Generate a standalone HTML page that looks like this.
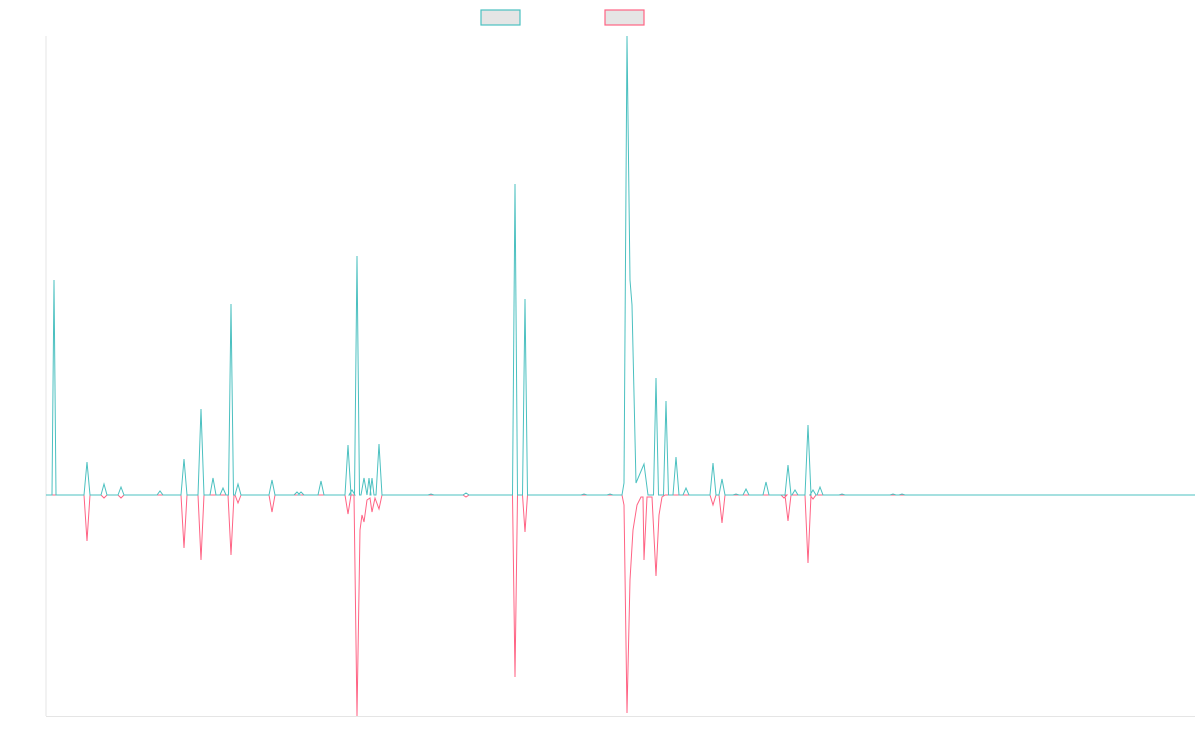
<!DOCTYPE html>
<html><head><meta charset="utf-8"><style>
html,body{margin:0;padding:0;background:#fff;width:1200px;height:750px;overflow:hidden}
</style></head><body>
<svg id="s" width="1200" height="750" xmlns="http://www.w3.org/2000/svg">
<rect x="481" y="10" width="39" height="15" fill="#e5e5e5" stroke="#4bc0c0" stroke-width="1.2"/>
<rect x="605" y="10" width="39" height="15" fill="#e5e5e5" stroke="#ff6384" stroke-width="1.2"/>
<line x1="46" y1="36" x2="46" y2="716" stroke="#e5e5e5"/>
<line x1="46" y1="716.5" x2="1195" y2="716.5" stroke="#e5e5e5"/>
<polyline id="p" fill="none" stroke="#ff6384" stroke-width="1"/>
<polyline id="t" fill="none" stroke="#4bc0c0" stroke-width="1"/>
</svg>
<script>
function build(sp,w){
 var pts=[[46,495]];
 sp.forEach(function(s){
  if(s.raw){s.raw.forEach(function(q){pts.push(q)});return;}
  pts.push([s[0]-(s[2]||w),495]);pts.push([s[0],s[1]]);pts.push([s[0]+(s[2]||w),495]);});
 pts.push([1195,495]);
 return pts.map(function(p){return p[0]+','+p[1]}).join(' ');
}
var teal=[[54,280,2],[87,462],[104,484],[121,487],[160,491],[184,459],[201,409],[213,478],[223,488],[231,304,2.5],[238,484],[272,480],[297,492],[301,492],[321,481],[348,445],[352,490],[357,256,2.5],[364,478],[369,478,2],[372,478,2],[379,444],[431,494],[466,493],[515,184,2.5],[525,299,2.5],[584,494],[610,494],
 {raw:[[622,495],[624,483],[627,36],[630,280],[632,305],[636,483],[644,464],[648,495]]},
 [656,378,2.5],[666,401,2.5],[676,457],[686,488],[713,463],[722,479,3],[736,494],[746,489],[766,482],[788,465],[795,490],[808,425,3],[813,490],[820,487],[842,494],[893,494],[902,494]];
var pink=[[87,541],[104,498],[121,498],[184,548],[201,560],[231,555],[238,503],[272,512],[348,514],
 {raw:[[354,495],[357,716],[360,530],[362,515],[364,522],[367,500],[370,498],[372,512],[375,498],[379,509],[382,495]]},
 [466,497],[515,677,2.5],[525,532,2.5],
 {raw:[[622,495],[624,505],[627,713],[630,580],[633,530],[637,505],[641,497],[643,497],[644,560],[647,497],[652,497],[656,576],[659,515],[662,497],[665,495]]},
 [713,505],[722,523],[784,498],[788,521],[808,563,3],[813,499]];
document.getElementById('t').setAttribute('points',build(teal,3));
document.getElementById('p').setAttribute('points',build(pink,3));
</script>
</body></html>
